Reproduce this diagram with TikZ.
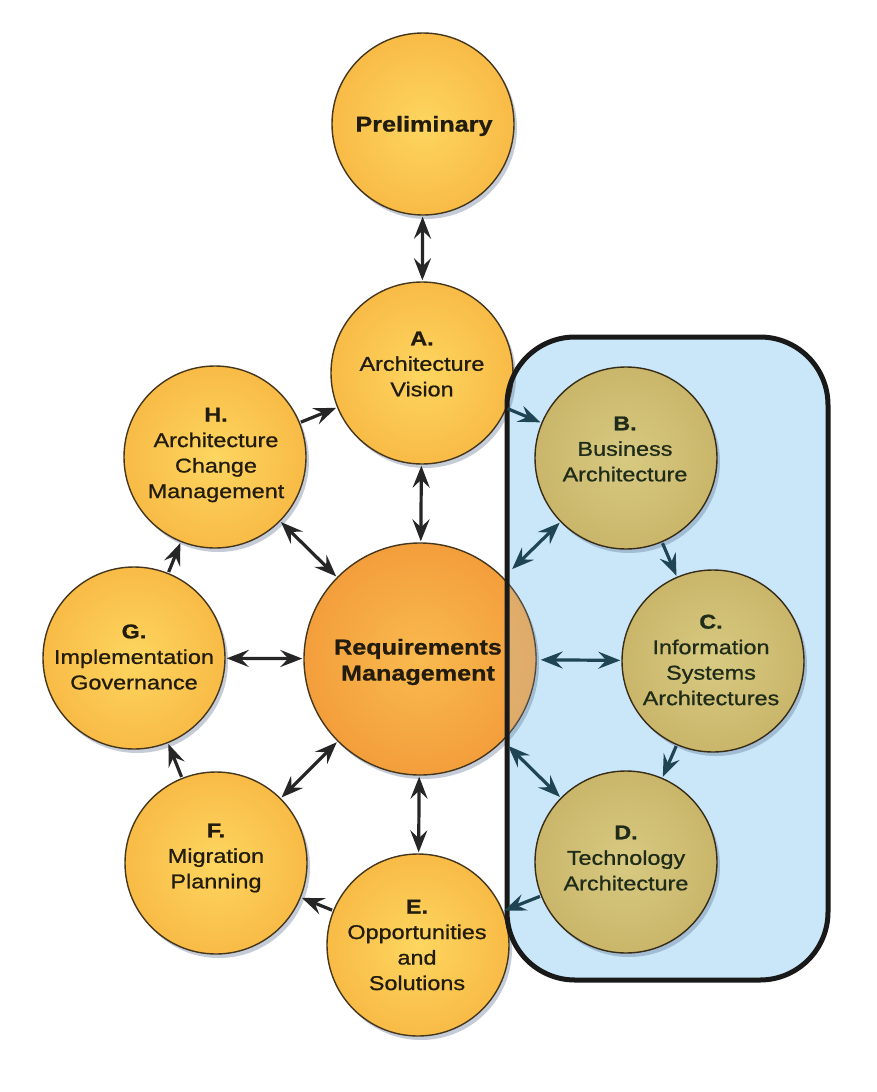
\documentclass[tikz,border=0pt]{standalone}
\usepackage{fontspec}
\setmainfont{Liberation Sans}
\newfontfamily\lblfont[FakeStretch=1.17,FakeBold=0.9]{Liberation Sans}
\usetikzlibrary{arrows.meta,shadows}

\definecolor{orfill}{HTML}{F8BB46}
\definecolor{orinner}{HTML}{FDD660}
\definecolor{reqfill}{HTML}{F39E3C}
\definecolor{reqinner}{HTML}{F9BA4E}
\definecolor{khfill}{HTML}{C9B66A}
\definecolor{khinner}{HTML}{D8CA82}
\definecolor{bluebg}{HTML}{C9E7F9}
\definecolor{rim}{HTML}{45371E}
\definecolor{arrowdark}{HTML}{262626}
\definecolor{arrowteal}{HTML}{1F4552}
\definecolor{txtdark}{HTML}{221C0E}
\definecolor{txtgreen}{HTML}{1F2C1A}
\definecolor{shadowc}{HTML}{5A6E90}

\begin{document}
\begin{tikzpicture}[x=1pt,y=-1pt,
  shad/.style={drop shadow={shadow xshift=3pt, shadow yshift=-4pt, fill=shadowc, opacity=0.35}},
  phase/.style={circle, draw=rim, line width=1.4pt, minimum size=182pt, inner sep=0pt,
    inner color=orinner, outer color=orfill, shad},
  reqc/.style={circle, draw=rim, line width=1.4pt, minimum size=232pt, inner sep=0pt,
    inner color=reqinner, outer color=reqfill, shad},
  khc/.style={circle, draw=rim!80!black, line width=1.4pt, minimum size=182pt, inner sep=0pt,
    inner color=khinner, outer color=khfill, shad},
  lbl/.style={align=center, font=\lblfont\fontsize{20}{25.5}\selectfont, text=txtdark, inner sep=0pt},
  lblg/.style={lbl, text=txtgreen},
  conn/.style={line width=3.2pt, draw=arrowdark, shorten >=1pt, shorten <=1pt},
  conng/.style={conn, draw=arrowteal},
  both/.style={{Stealth[length=22pt,width=17pt,inset=8pt]}-{Stealth[length=22pt,width=17pt,inset=8pt]}},
  one/.style={-{Stealth[length=22pt,width=17pt,inset=8pt]}}
]
\useasboundingbox (0,0) rectangle (876,1092);
\fill[white] (0,0) rectangle (876,1092);

% blue region background
\fill[bluebg, rounded corners=68pt] (507,337) rectangle (828,980);

% orange circles
\node[phase] (P) at (423,124) {};
\node[phase] (A) at (422,373) {};
\node[phase] (H) at (215,457) {};
\node[phase] (G) at (134,658) {};
\node[phase] (F) at (216,863) {};
\node[phase] (E) at (418,945) {};
\node[reqc] (R) at (420,659) {};

% tint of requirements circle inside region
\begin{scope}
  \clip[rounded corners=68pt] (507,337) rectangle (828,980);
  \fill[bluebg!70!gray, opacity=0.3] (R.center) circle (116pt);
\end{scope}

% region border
\draw[black!90, line width=5pt, rounded corners=68pt] (507,337) rectangle (828,980);

% khaki circles
\node[khc] (B) at (626,458) {};
\node[khc] (C) at (713,661) {};
\node[khc] (D) at (626,862) {};

% connectors
\draw[conn, both] (P) -- (A);
\draw[conn, both] (A) -- (R);
\draw[conn, one] (H) -- (A);
\draw[conng, one] (A) -- (B);
\draw[conng, one] (B) -- (C);
\draw[conng, one] (C) -- (D);
\draw[conng, one] (D) -- (E);
\draw[conn, one] (E) -- (F);
\draw[conn, one] (F) -- (G);
\draw[conn, one] (G) -- (H);
\draw[conn, both] (R) -- (H);
\draw[conn, both] (R) -- (G);
\draw[conn, both] (R) -- (F);
\draw[conn, both] (R) -- (E);
\draw[conng, both, shorten <=12pt] (R) -- (B);
\draw[conng, both, shorten <=4pt] (R) -- (C);
\draw[conng, both, shorten <=7pt] (R) -- (D);

% labels
\node[lbl, font=\lblfont\bfseries\fontsize{21.5}{26}\selectfont] (Pt) at (424,126) {Preliminary};
\node[lbl] (At) at (422,364) {\textbf{A.}\\Architecture\\Vision};
\node[lbl] (Ht) at (216,455) {\textbf{H.}\\Architecture\\Change\\Management};
\node[lblg] (Bt) at (625,449) {\textbf{B.}\\Business\\Architecture};
\node[lbl] (Gt) at (134,657) {\textbf{G.}\\Implementation\\Governance};
\node[lbl, font=\lblfont\bfseries\fontsize{21.5}{26}\selectfont] (Rt) at (418,662) {Requirements\\Management};
\node[lblg] (Ct) at (711,660) {\textbf{C.}\\Information\\Systems\\Architectures};
\node[lbl] (Ft) at (216,858) {\textbf{F.}\\Migration\\Planning};
\node[lblg] (Dt) at (626,858) {\textbf{D.}\\Technology\\Architecture};
\node[lbl] (Et) at (417,945) {\textbf{E.}\\Opportunities\\and\\Solutions};
\end{tikzpicture}
\end{document}
